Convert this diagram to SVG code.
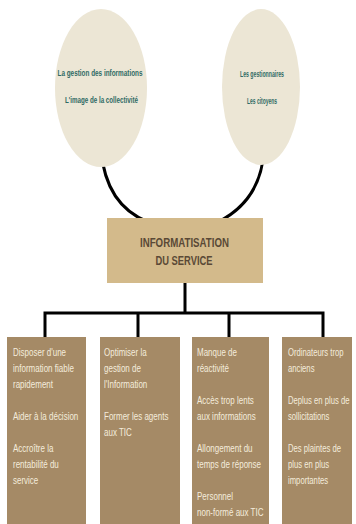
<svg xmlns="http://www.w3.org/2000/svg" width="356" height="524" viewBox="0 0 356 524">
<style>
.ell{fill:#ece6d5}
.etx{font-family:"Liberation Sans",Arial,sans-serif;font-size:9px;font-weight:bold;fill:#2f6a64;text-anchor:middle}
.main{fill:#d3ba8b}
.mtx{font-family:"Liberation Sans",Arial,sans-serif;font-size:12px;font-weight:bold;fill:#5a4936;text-anchor:middle}
.bx{fill:#a58a66}
.btx{font-family:"Liberation Sans",Arial,sans-serif;font-size:10px;fill:#f4ecdc}
.con{fill:none;stroke:#000;stroke-width:3}
</style>
<rect width="356" height="524" fill="#fff"/>
<g id="connectors">
<path class="con" d="M101,150 C104,185 118,210 148,222"/>
<path class="con" d="M264,150 C262,185 246,208 218,222"/>
<path class="con" d="M185,283 V313 M45,313 H323 M45,311.5 V337 M138,311.5 V337 M229,311.5 V337 M323,311.5 V337"/>
</g>
<g id="ellipse-left">
<ellipse class="ell" cx="101" cy="88" rx="46" ry="79"/>
<text class="etx" x="100" y="76" textLength="85" lengthAdjust="spacingAndGlyphs">La gestion des informations</text>
<text class="etx" x="101.5" y="103" textLength="73" lengthAdjust="spacingAndGlyphs">L'image de la collectivité</text>
</g>
<g id="ellipse-right">
<ellipse class="ell" cx="261" cy="87" rx="39" ry="78"/>
<text class="etx" x="262" y="77" textLength="44" lengthAdjust="spacingAndGlyphs">Les gestionnaires</text>
<text class="etx" x="262" y="104" textLength="30" lengthAdjust="spacingAndGlyphs">Les citoyens</text>
</g>
<g id="main">
<rect class="main" x="107" y="218" width="156" height="65"/>
<text class="mtx" x="184.5" y="246.5" textLength="89" lengthAdjust="spacingAndGlyphs">INFORMATISATION</text>
<text class="mtx" x="184" y="264.5" textLength="57" lengthAdjust="spacingAndGlyphs">DU SERVICE</text>
</g>
<g id="box1">
<rect class="bx" x="7" y="337" width="79" height="187"/>
<g transform="translate(13,0) scale(0.8,1)">
<text class="btx" x="0" y="356">Disposer d'une</text>
<text class="btx" x="0" y="372">information fiable</text>
<text class="btx" x="0" y="388">rapidement</text>
<text class="btx" x="0" y="420">Aider à la décision</text>
<text class="btx" x="0" y="452">Accroître la</text>
<text class="btx" x="0" y="468">rentabilité du</text>
<text class="btx" x="0" y="484">service</text>
</g>
</g>
<g id="box2">
<rect class="bx" x="100" y="337" width="80" height="187"/>
<g transform="translate(104,0) scale(0.8,1)">
<text class="btx" x="0" y="356">Optimiser la</text>
<text class="btx" x="0" y="372">gestion de</text>
<text class="btx" x="0" y="388">l'Information</text>
<text class="btx" x="0" y="420">Former les agents</text>
<text class="btx" x="0" y="436">aux TIC</text>
</g>
</g>
<g id="box3">
<rect class="bx" x="192" y="337" width="77" height="187"/>
<g transform="translate(197,0) scale(0.8,1)">
<text class="btx" x="0" y="356">Manque de</text>
<text class="btx" x="0" y="372">réactivité</text>
<text class="btx" x="0" y="404">Accès trop lents</text>
<text class="btx" x="0" y="420">aux informations</text>
<text class="btx" x="0" y="452">Allongement du</text>
<text class="btx" x="0" y="468">temps de réponse</text>
<text class="btx" x="0" y="500">Personnel</text>
<text class="btx" x="0" y="516">non-formé aux TIC</text>
</g>
</g>
<g id="box4">
<rect class="bx" x="282" y="337" width="70" height="187"/>
<g transform="translate(288,0) scale(0.77,1)">
<text class="btx" x="0" y="356">Ordinateurs trop</text>
<text class="btx" x="0" y="372">anciens</text>
<text class="btx" x="0" y="404">Deplus en plus de</text>
<text class="btx" x="0" y="420">sollicitations</text>
<text class="btx" x="0" y="452">Des plaintes de</text>
<text class="btx" x="0" y="468">plus en plus</text>
<text class="btx" x="0" y="484">importantes</text>
</g>
</g>
</svg>
